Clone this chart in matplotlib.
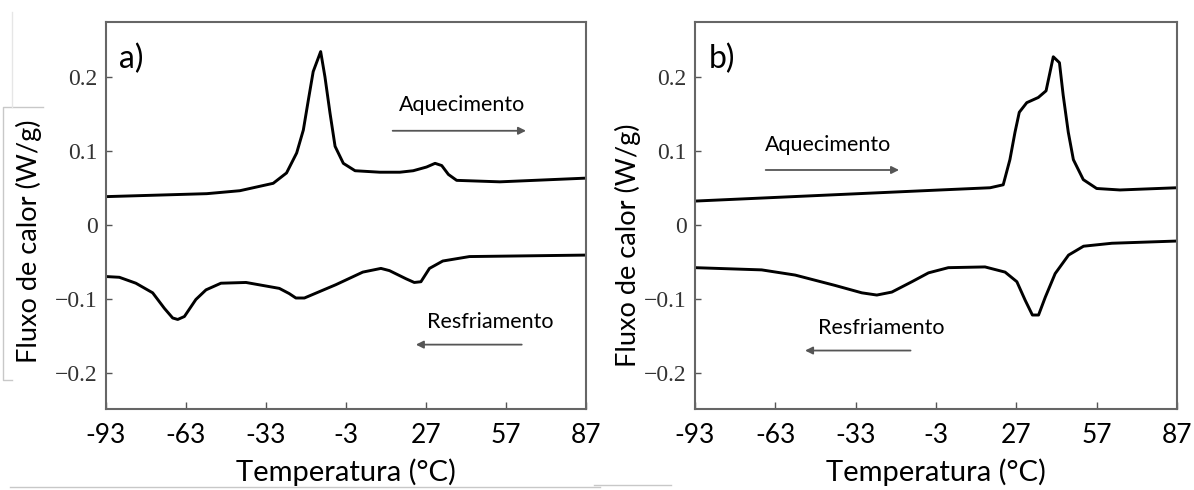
import matplotlib
matplotlib.use("Agg")
import matplotlib.pyplot as plt
from matplotlib.lines import Line2D

plt.rcParams['font.family'] = ['Lato', 'DejaVu Sans']

# --- dados ---
xticks = [-93, -63, -33, -3, 27, 57, 87]
xtick_labels = ['-93', '-63', '-33', '-3', '27', '57', '87']
yticks = [0.2, 0.1, 0.0, -0.1, -0.2]
ytick_labels = ['0.2', '0.1', '0', '\u22120.1', '\u22120.2']

# a) aquecimento
a_aq_T = [-93, -55.2, -42.8, -30.3, -25.3, -21.5, -19.0, -17.1, -15.3, -12.5, -10.9,
          -9.0, -7.1, -4.0, 0.4, 9.7, 17.2, 22.2, 27.2, 30.4, 32.9, 35.4, 38.5,
          54.7, 87]
a_aq_q = [0.038, 0.042, 0.046, 0.056, 0.070, 0.097, 0.128, 0.169, 0.207, 0.234, 0.200,
          0.151, 0.106, 0.083, 0.073, 0.071, 0.071, 0.073, 0.078, 0.083, 0.080, 0.068, 0.060,
          0.058, 0.063]
# a) resfriamento
a_rf_T = [-93, -88.0, -81.8, -75.5, -71.1, -68.0, -66.1, -63.6, -59.3, -55.5, -49.9,
          -40.5, -28.0, -24.3, -21.8, -18.6, -6.8, 3.3, 10.1, 13.3, 19.5, 22.6, 25.1,
          28.3, 33.3, 43.3, 87]
a_rf_q = [-0.070, -0.071, -0.079, -0.092, -0.113, -0.126, -0.128, -0.124, -0.101, -0.088, -0.079,
          -0.078, -0.086, -0.093, -0.099, -0.099, -0.081, -0.064, -0.059, -0.062, -0.073, -0.078, -0.077,
          -0.059, -0.049, -0.043, -0.041]

# b) aquecimento
b_aq_T = [-93, -1.5, 17.2, 22.1, 24.6, 26.5, 28.1, 30.9, 35.2, 38.1, 40.8, 43.1,
          44.5, 46.4, 48.3, 52.0, 57.0, 65.7, 87]
b_aq_q = [0.032, 0.047, 0.050, 0.054, 0.088, 0.125, 0.152, 0.165, 0.172, 0.181, 0.227, 0.219,
          0.175, 0.125, 0.088, 0.061, 0.049, 0.047, 0.050]
# b) resfriamento
b_rf_T = [-93, -68.1, -55.6, -40.7, -30.7, -25.1, -19.5, -12.0, -5.8, 1.6, 15.3,
          22.8, 27.2, 30.3, 33.0, 35.3, 37.8, 41.5, 46.5, 52.1, 62.7, 87]
b_rf_q = [-0.058, -0.061, -0.068, -0.082, -0.092, -0.095, -0.091, -0.077, -0.065, -0.058, -0.057,
          -0.064, -0.077, -0.102, -0.122, -0.122, -0.098, -0.066, -0.041, -0.029, -0.025, -0.022]

paineis = [
    dict(tag='a)', aq=(a_aq_T, a_aq_q), rf=(a_rf_T, a_rf_q),
         aq_txt=(40.5, 0.162), aq_arr=(14.5, 64.5, 0.127),
         rf_txt=(51.0, -0.131), rf_arr=(62.9, 23.2, -0.162)),
    dict(tag='b)', aq=(b_aq_T, b_aq_q), rf=(b_rf_T, b_rf_q),
         aq_txt=(-43.3, 0.108), aq_arr=(-66.6, -16.8, 0.074),
         rf_txt=(-23.3, -0.140), rf_arr=(-12.5, -51.9, -0.170)),
]

W, H = 1194, 490
fig = plt.figure(figsize=(W / 100, H / 100), dpi=100)

caixas = [(106, 22, 586, 409), (695, 22, 1177, 409)]
ylab_x = [29, 628]
ylab_y = [241, 245]

for i, p in enumerate(paineis):
    x0, y0, x1, y1 = caixas[i]
    ax = fig.add_axes([x0 / W, 1 - y1 / H, (x1 - x0) / W, (y1 - y0) / H])
    ax.plot(*p['aq'], color='black', lw=2.1, solid_joinstyle='round')
    ax.plot(*p['rf'], color='black', lw=2.1, solid_joinstyle='round')
    ax.set_xlim(-93, 87)
    ax.set_ylim(-0.249, 0.274)

    ax.set_xticks(xticks)
    ax.set_xticklabels(xtick_labels, fontsize=19, color='black')
    ax.set_yticks(yticks)
    ax.set_yticklabels(ytick_labels, fontsize=17, color='#333333',
                       family='Liberation Serif')
    ax.tick_params(axis='x', direction='in', length=5, width=1, color='#555555', pad=10)
    ax.tick_params(axis='y', direction='in', length=4, width=1, color='#555555', pad=6)
    for s in ax.spines.values():
        s.set_color('#666666')
        s.set_linewidth(1.5)

    ax.text(0.028, 0.905, p['tag'], transform=ax.transAxes, fontsize=23,
            ha='left', va='center')

    # setas aquecimento / resfriamento
    tx, ty = p['aq_txt']
    ax.text(tx, ty, 'Aquecimento', fontsize=15.5, ha='center', va='center')
    a0, a1, ay = p['aq_arr']
    ax.annotate('', xy=(a1, ay), xytext=(a0, ay),
                arrowprops=dict(arrowstyle='-|>', color='#555555', lw=1.3,
                                mutation_scale=11, shrinkA=0, shrinkB=0))
    tx, ty = p['rf_txt']
    ax.text(tx, ty, 'Resfriamento', fontsize=15.5, ha='center', va='center')
    a0, a1, ay = p['rf_arr']
    ax.annotate('', xy=(a1, ay), xytext=(a0, ay),
                arrowprops=dict(arrowstyle='-|>', color='#555555', lw=1.3,
                                mutation_scale=11, shrinkA=0, shrinkB=0))

    fig.text(ylab_x[i] / W, 1 - ylab_y[i] / H, 'Fluxo de calor (W/g)', rotation=90,
             fontsize=19.5, ha='center', va='center')
    fig.text((x0 + x1) / 2 / W, 1 - 472 / H, 'Temperatura (\u00b0C)',
             fontsize=21, ha='center', va='center')

# linhas cinzas de moldura (recorte da imagem original)
def linha(xs, ys, cor='#c8c8c8'):
    fig.add_artist(Line2D([x / W for x in xs], [1 - y / H for y in ys],
                          color=cor, lw=1, zorder=0))

linha([43, 3, 3, 12], [107, 107, 380, 380])
linha([12, 12], [12, 107], cor='#e6e6e6')
linha([10, 600], [487, 487])
linha([594, 671], [485, 485])

fig.savefig('out.png', dpi=100)
